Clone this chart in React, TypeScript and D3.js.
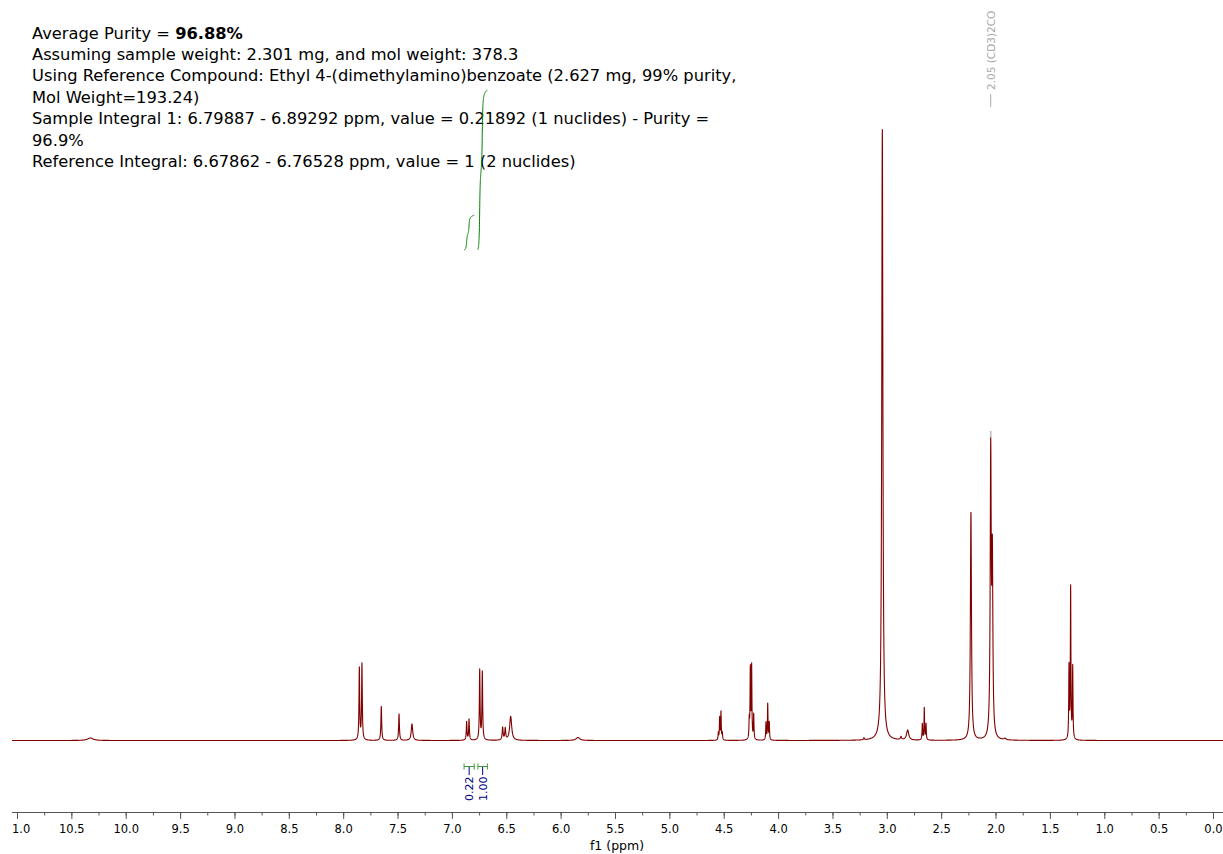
import React from "react";
import * as d3 from "d3";

// ---- Data ----
// Peaks: chemical shift (ppm), height (intensity units, 3.046 ppm peak = 611), half width (ppm)
const peakPpm = [
  10.33, 7.856, 7.832, 7.654, 7.491, 7.372, 6.869, 6.847, 6.749, 6.725,
  6.538, 6.514, 6.464, 5.845, 4.554, 4.542, 4.530, 4.518, 4.270, 4.260,
  4.248, 4.229, 4.116, 4.100, 4.086, 3.215, 3.046, 2.874, 2.813, 2.678,
  2.660, 2.644, 2.231, 2.049, 2.034, 1.918, 1.329, 1.314, 1.295,
];
const peakHeight = [
  2.5, 72, 76, 34, 26.5, 16.5, 18.5, 21, 70, 68,
  12.5, 11.5, 24, 3, 7, 22, 28, 7, 19, 70,
  73, 25, 17.5, 36, 17.5, 2, 611, 3, 10, 16,
  32, 16, 228, 282, 172, 1.5, 72, 152, 72,
];
const peakWidth = [
  0.03, 0.0038, 0.0038, 0.0042, 0.0042, 0.008, 0.0038, 0.0038, 0.0038, 0.0038,
  0.005, 0.005, 0.011, 0.02, 0.003, 0.003, 0.003, 0.003, 0.003, 0.003,
  0.003, 0.003, 0.003, 0.003, 0.003, 0.004, 0.0062, 0.006, 0.012, 0.003,
  0.003, 0.003, 0.0058, 0.0055, 0.0055, 0.01, 0.003, 0.003, 0.003,
];

// Integrals
const integralFrom = [6.89292, 6.76528];
const integralTo = [6.79887, 6.67862];
const integralValue = [0.21892, 1];
const integralLabel = ["0.22", "1.00"];

// Axis ticks
const majorTicks = d3.range(0, 23).map((i) => 11 - i * 0.5);
const minorTicks = d3.range(0, 45).map((i) => 11 - i * 0.25);

// Solvent annotation
const solventPpm = 2.049;
const solventLabel = "2.05 (CD3)2CO";

const headerLines = [
  "Assuming sample weight: 2.301 mg, and mol weight: 378.3",
  "Using Reference Compound: Ethyl 4-(dimethylamino)benzoate (2.627 mg, 99% purity,",
  "Mol Weight=193.24)",
  "Sample Integral 1: 6.79887 - 6.89292 ppm, value = 0.21892 (1 nuclides) - Purity =",
  "96.9%",
  "Reference Integral: 6.67862 - 6.76528 ppm, value = 1 (2 nuclides)",
];

const W = 1223;
const H = 854;
const FONT = "Verdana, 'DejaVu Sans', sans-serif";

function intensity(ppm: number): number {
  let s = 0;
  for (let i = 0; i < peakPpm.length; i++) {
    const d = ppm - peakPpm[i];
    const w = peakWidth[i];
    s += (peakHeight[i] * w * w) / (w * w + d * d);
  }
  return s;
}

export default function App() {
  const x = d3.scaleLinear().domain([11, 0]).range([17.5, 1213.5]);
  const y = d3.scaleLinear().domain([0, 611]).range([740.5, 129.5]);

  const ppmStart = x.invert(12);
  const ppmEnd = x.invert(W);
  const step = 0.0006;
  const pts: [number, number][] = [];
  for (let p = ppmStart; p >= ppmEnd; p -= step) pts.push([p, intensity(p)]);
  const line = d3
    .line<[number, number]>()
    .x((d) => x(d[0]))
    .y((d) => y(d[1]));
  const specPath = line(pts) || "";

  // integral curves
  const integralBase = 250;
  const integralScale = 160; // px per unit value
  const integralPaths = integralFrom.map((from, k) => {
    const to = integralTo[k];
    const ips: number[] = [];
    const vals: number[] = [];
    let acc = 0;
    for (let p = from; p >= to; p -= 0.0005) {
      acc += intensity(p);
      ips.push(p);
      vals.push(acc);
    }
    const total = acc;
    const ys = d3
      .scaleLinear()
      .domain([0, total])
      .range([integralBase, integralBase - integralValue[k] * integralScale]);
    return (
      d3
        .line<number>()
        .x((_, i) => x(ips[i]))
        .y((v) => ys(v))(vals) || ""
    );
  });

  const solventX = x(solventPpm);
  const solventTop = y(intensity(solventPpm));

  return (
    <svg
      width={W}
      height={H}
      style={{ position: "absolute", left: 0, top: 0, background: "#fff" }}
    >
      <defs>
        <clipPath id="plotClip">
          <rect x={12} y={0} width={W - 12} height={H} />
        </clipPath>
      </defs>

      {/* header text */}
      <g fontFamily={FONT} fontSize={16.3} fill="#000">
        <text x={32} y={38.5}>
          Average Purity = <tspan fontWeight="bold">96.88%</tspan>
        </text>
        {headerLines.map((t, i) => (
          <text key={i} x={32} y={38.5 + (i + 1) * 21.4}>
            {t}
          </text>
        ))}
      </g>

      {/* integral curves */}
      {integralPaths.map((d, i) => (
        <path key={i} d={d} fill="none" stroke="#008000" strokeWidth={1} />
      ))}

      {/* solvent annotation */}
      <g>
        <line x1={solventX} x2={solventX} y1={94} y2={107} stroke="#aaa" strokeWidth={1} />
        <text
          transform={`translate(${solventX + 4},90) rotate(-90)`}
          fontFamily={FONT}
          fontSize={10.5}
          fill="#aaa"
        >
          {solventLabel}
        </text>
        <line
          x1={solventX}
          x2={solventX}
          y1={solventTop - 7}
          y2={solventTop}
          stroke="#bbb"
          strokeWidth={1.5}
        />
      </g>

      {/* spectrum */}
      <g clipPath="url(#plotClip)">
        <path d={specPath} fill="none" stroke="#800000" strokeWidth={1.1} strokeLinejoin="round" />
      </g>

      {/* integral labels */}
      {integralFrom.map((from, k) => {
        const x1 = x(from);
        const x2 = x(integralTo[k]);
        const xm = (x1 + x2) / 2;
        return (
          <g key={k}>
            <line x1={x1} x2={x2} y1={766.5} y2={766.5} stroke="#3a9a3a" />
            <line x1={x1} x2={x1} y1={763.5} y2={769.5} stroke="#3a9a3a" />
            <line x1={x2} x2={x2} y1={763.5} y2={769.5} stroke="#3a9a3a" />
            <line x1={xm} x2={xm} y1={767} y2={775} stroke="#000080" />
            <text
              transform={`translate(${xm + 4},801) rotate(-90)`}
              fontFamily={FONT}
              fontSize={11}
              fill="#000080"
            >
              {integralLabel[k]}
            </text>
          </g>
        );
      })}

      {/* x axis */}
      <g clipPath="url(#plotClip)">
        <line x1={12} x2={W} y1={812.5} y2={812.5} stroke="#555" strokeWidth={1} />
        {minorTicks.map((t) => (
          <line key={"m" + t} x1={x(t)} x2={x(t)} y1={812} y2={815.5} stroke="#555" />
        ))}
        {majorTicks.map((t) => (
          <g key={"M" + t}>
            <line x1={x(t)} x2={x(t)} y1={812} y2={819} stroke="#555" />
            <text
              x={x(t)}
              y={833}
              textAnchor="middle"
              fontFamily={FONT}
              fontSize={11.5}
              fill="#000"
            >
              {t.toFixed(1)}
            </text>
          </g>
        ))}
      </g>
      <text x={617} y={850} textAnchor="middle" fontFamily={FONT} fontSize={12.5} fill="#000">
        f1 (ppm)
      </text>
    </svg>
  );
}
